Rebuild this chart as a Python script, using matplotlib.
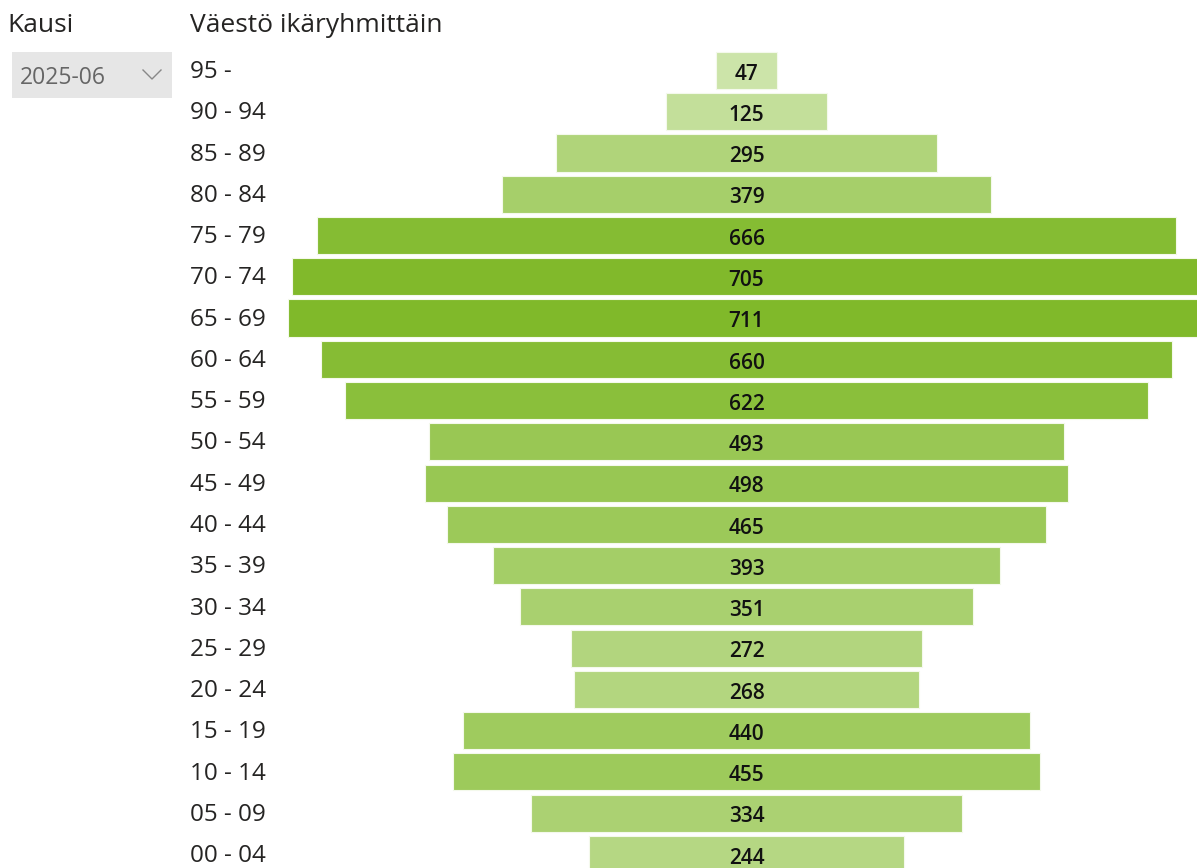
import numpy as np
import matplotlib.pyplot as plt
from matplotlib.colors import to_rgb
from matplotlib.lines import Line2D
from matplotlib.patches import Rectangle
import matplotlib.transforms as mtransforms

plt.rcParams["font.family"] = ["Open Sans", "DejaVu Sans"]

age_groups = ["95 -", "90 - 94", "85 - 89", "80 - 84", "75 - 79", "70 - 74",
              "65 - 69", "60 - 64", "55 - 59", "50 - 54", "45 - 49", "40 - 44",
              "35 - 39", "30 - 34", "25 - 29", "20 - 24", "15 - 19", "10 - 14",
              "05 - 09", "00 - 04"]
population = [47, 125, 295, 379, 666, 705, 711, 660, 622, 493, 498, 465,
              393, 351, 272, 268, 440, 455, 334, 244]
period = "2025-06"

W, H = 1197, 868
fig = plt.figure(figsize=(W / 100, H / 100), dpi=100)

vals = np.array(population, dtype=float)
light = np.array(to_rgb("#cce4a9"))
dark = np.array(to_rgb("#80b92a"))
t = (vals - vals.min()) / (vals.max() - vals.min())
colors = [tuple(light + (dark - light) * f) for f in t]

# funnel axes: widest bar runs a little past the right border (clipped)
ax = fig.add_axes([288 / W, 0, 917 / W, 1])
ax.axis("off")
half = vals.max() / 2
ax.set_xlim(-half, half)
row_h = 41.26
top_c = 70.5
ax.set_ylim((H - top_c) / row_h, -top_c / row_h)

y = np.arange(len(age_groups))
ax.barh(y, vals, left=-vals / 2, height=0.9, color=colors,
        edgecolor="#f4f9ec", linewidth=0.8)
for yi, v in zip(y, population):
    ax.text(0, yi + 0.09, f"{v}", ha="center", va="center", fontsize=15,
            fontweight="semibold", color="#111111")

trans = mtransforms.blended_transform_factory(fig.transFigure, ax.transData)
for yi, lab in zip(y, age_groups):
    ax.text(190 / W, yi + 0.04, lab, transform=trans, ha="left", va="center",
            fontsize=17.5, color="#252423", clip_on=False)

fig.text(190 / W, 1 - 26 / H, "Väestö ikäryhmittäin", ha="left", va="center",
         fontsize=19, color="#252423")
fig.text(7 / W, 1 - 26 / H, "Kausi", ha="left", va="center",
         fontsize=19, color="#252423")

# period slicer box
fig.patches.append(Rectangle((12 / W, 1 - 98 / H), 160 / W, 46 / H,
                             transform=fig.transFigure, facecolor="#e6e6e6",
                             edgecolor="none"))
fig.text(20 / W, 1 - 78 / H, period, ha="left", va="center",
         fontsize=16.5, color="#666666")
fig.lines.append(Line2D([143 / W, 152 / W, 161 / W],
                        [1 - 70 / H, 1 - 79 / H, 1 - 70 / H],
                        transform=fig.transFigure, color="#888888", lw=1))

fig.savefig("out.png", dpi=100, facecolor="white")
